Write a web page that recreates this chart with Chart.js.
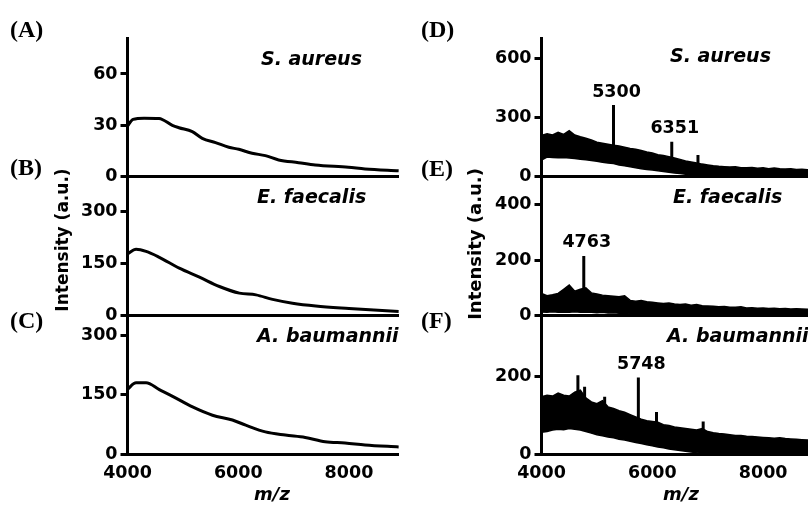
<!DOCTYPE html>
<html>
<head>
<meta charset="utf-8">
<script src="https://cdn.jsdelivr.net/npm/chart.js@4.4.0/dist/chart.umd.min.js"></script>
<style>
  html, body { margin: 0; padding: 0; background: #fff; overflow: hidden; }
  #fig { position: relative; width: 808px; height: 505px; overflow: hidden; }
  #fig canvas { position: absolute; left: 0; top: 0; }
</style>
</head>
<body>
<div id="fig"></div>
<script>
// shared m/z axis
const mzTicks = [4000, 6000, 8000];

// (A)-(C): smoothed spectra
const mzA = [4000, 4100, 4300, 4570, 4810, 4930, 5170, 5350, 5590, 5830, 6010, 6250, 6490, 6730, 7090, 7390, 7990, 8290, 8900];
const intA = [29.6, 33.5, 34.2, 34, 30, 28.6, 26.3, 22.4, 19.9, 17.2, 16, 13.7, 12.3, 9.8, 8.2, 6.8, 5.5, 4.5, 3.5];
const mzB = [4000, 4155, 4335, 4575, 4935, 5300, 5660, 6020, 6320, 6620, 6980, 7400, 8000, 8900];
const intB = [178, 191, 185, 168, 137, 111, 84, 65, 60, 47, 36, 28, 21, 12];
const mzC = [4000, 4155, 4335, 4575, 4815, 5175, 5535, 5895, 6135, 6490, 6850, 7210, 7570, 7930, 8290, 8900];
const intC = [164, 180, 180, 163, 146, 119, 98, 86, 73, 56, 48, 42, 31, 28, 23, 18];

// (D)-(F): raw spectra drawn as a band between lower and upper envelope
const mzRaw = [4000, 4100, 4200, 4300, 4400, 4500, 4600, 4700, 4800, 4900,
               5000, 5100, 5200, 5300, 5400, 5500, 5600, 5700, 5800, 5900,
               6000, 6100, 6200, 6300, 6400, 6500, 6600, 6700, 6800, 6900,
               7000, 7100, 7200, 7300, 7400, 7500, 7600, 7700, 7800, 7900,
               8000, 8100, 8200, 8300, 8400, 8500, 8600, 8700, 8800, 8900];
const upperD = [210, 218, 212, 226, 215, 234, 212, 203, 195, 187, 175, 170, 165, 160, 156, 150, 144, 140, 133, 126,
                120, 112, 108, 102, 95, 88, 80, 75, 70, 64, 60, 56, 53, 51, 49, 50, 46, 45, 47, 43,
                45, 41, 44, 40, 39, 41, 37, 38, 35, 36];
const lowerD = [85, 100, 98, 96, 97, 95, 92, 89, 86, 82, 78, 74, 70, 67, 60, 55, 50, 45, 41, 37,
                34, 30, 27, 23, 19, 16, 12, 6, 2, 0, 0, 0, 0, 0, 0, 0, 0, 0, 0, 0,
                0, 0, 0, 0, 0, 0, 0, 0, 0, 0];
const upperE = [80, 72, 75, 80, 95, 110, 88, 95, 100, 82, 78, 74, 72, 70, 68, 72, 55, 52, 55, 50,
                48, 46, 44, 46, 42, 40, 42, 38, 40, 36, 35, 34, 32, 33, 30, 30, 32, 28, 29, 27,
                28, 26, 27, 25, 26, 24, 25, 24, 23, 23];
const lowerE = [13, 12, 14, 12, 13, 12, 14, 12, 13, 12, 11, 12, 10, 11, 9, 8, 6, 3, 0, 0,
                0, 0, 0, 0, 0, 0, 0, 0, 0, 0, 0, 0, 0, 0, 0, 0, 0, 0, 0, 0,
                0, 0, 0, 0, 0, 0, 0, 0, 0, 0];
const upperF = [148, 152, 150, 158, 152, 150, 160, 165, 145, 135, 130, 138, 122, 118, 112, 108, 102, 96, 90, 86,
                84, 82, 76, 74, 70, 68, 66, 64, 62, 66, 58, 55, 53, 52, 50, 48, 48, 46, 45, 44,
                43, 42, 41, 42, 40, 39, 38, 37, 36, 36];
const lowerF = [56, 58, 62, 64, 63, 66, 64, 62, 58, 54, 50, 47, 44, 42, 38, 36, 33, 30, 27, 24,
                21, 18, 16, 13, 11, 9, 7, 5, 3, 2, 1, 0, 0, 0, 0, 0, 0, 0, 0, 0,
                0, 0, 0, 0, 0, 0, 0, 0, 0, 0];

// peaks standing out of the band
const peakMzD = [5300, 6351, 6824];
const peakTopD = [364, 178, 110];
const peakBaseD = [140, 85, 65];
const peakLabelD = ['5300', '6351', ''];
const peakMzE = [4763];
const peakTopE = [215];
const peakBaseE = [70];
const peakLabelE = ['4763'];
const peakMzF = [4657, 4778, 5140, 5748, 6076, 6918];
const peakTopF = [204, 174, 148, 198, 109, 84];
const peakBaseF = [130, 130, 115, 90, 75, 60];
const peakLabelF = ['', '', '', '5748', '', ''];

// y ticks per panel
const yTicksA = [0, 30, 60];
const yTicksB = [0, 150, 300];
const yTicksC = [0, 150, 300];
const yTicksD = [0, 300, 600];
const yTicksE = [0, 200, 400];
const yTicksF = [0, 200];

// layout
const W = 830, H = 505, X_AXIS_H = 40;
const colLeft = { left: 127.5, right: 398.8 };
const colRight = { left: 541.5, right: 813 };
const rows = [{ top: 38, bottom: 176.7 }, { top: 176.7, bottom: 315.7 }, { top: 315.7, bottom: 454 }];

const tickFont = { family: 'DejaVu Sans', weight: 'bold', size: 17.5 };
const panelFont = 'bold 24px "Liberation Serif"';
const speciesFont = 'italic bold 19px "DejaVu Sans"';

const fig = document.getElementById('fig');

function toPoints(xs, ys) {
    return xs.map((x, i) => ({ x: x, y: ys[i] }));
}

function spikePoints(mz, base, top) {
    const pts = [];
    mz.forEach((m, i) => {
        pts.push({ x: m, y: base[i] }, { x: m, y: top[i] }, { x: m, y: null });
    });
    return pts;
}

function textPlugin(items, peaks) {
    return {
        id: 'figText',
        afterDraw(chart) {
            const ctx = chart.ctx;
            ctx.save();
            ctx.fillStyle = '#000';
            ctx.textBaseline = 'middle';
            items.forEach(t => {
                ctx.save();
                ctx.font = t.font;
                ctx.textAlign = t.align || 'left';
                ctx.translate(t.x, t.y);
                if (t.rotate) ctx.rotate(t.rotate);
                ctx.fillText(t.text, 0, 0);
                ctx.restore();
            });
            if (peaks) {
                const xs = chart.scales.x, ys = chart.scales.y;
                ctx.font = 'bold 17.5px "DejaVu Sans"';
                ctx.textAlign = 'center';
                peaks.mz.forEach((m, i) => {
                    if (!peaks.label[i]) return;
                    ctx.fillText(peaks.label[i], xs.getPixelForValue(m) + 3, ys.getPixelForValue(peaks.top[i]) - 13);
                });
            }
            ctx.restore();
        }
    };
}

function makePanel(col, row, datasets, yMax, yTicks, showX, items, peaks) {
    const canvas = document.createElement('canvas');
    canvas.width = W;
    canvas.height = H;
    fig.appendChild(canvas);
    const box = rows[row];
    return new Chart(canvas, {
        type: 'line',
        data: { datasets: datasets },
        options: {
            responsive: false,
            animation: false,
            events: [],
            layout: { padding: { left: 0, top: box.top, right: W - col.right, bottom: H - box.bottom - X_AXIS_H } },
            plugins: { legend: { display: false }, tooltip: { enabled: false } },
            elements: { point: { radius: 0 } },
            scales: {
                x: {
                    type: 'linear', min: 4000, max: 8900,
                    afterFit: s => { s.height = X_AXIS_H; },
                    afterBuildTicks: s => { s.ticks = mzTicks.map(v => ({ value: v })); },
                    grid: { display: false, drawTicks: false },
                    border: { display: true, width: 3, color: '#000' },
                    ticks: { display: showX, font: tickFont, color: '#000', padding: 9, maxRotation: 0, callback: v => String(v) }
                },
                y: {
                    type: 'linear', min: 0, max: yMax,
                    afterFit: s => { s.width = col.left; },
                    afterBuildTicks: s => { s.ticks = yTicks.map(v => ({ value: v })); },
                    grid: { drawOnChartArea: false, drawTicks: true, tickLength: 7, tickWidth: 3, tickColor: '#000' },
                    border: { display: true, width: 3, color: '#000' },
                    ticks: { font: tickFont, color: '#000', padding: 3, callback: v => String(v) }
                }
            }
        },
        plugins: [textPlugin(items, peaks)]
    });
}

function smoothSet(xs, ys) {
    return { data: toPoints(xs, ys), borderColor: '#000', borderWidth: 3, cubicInterpolationMode: 'monotone', fill: false };
}

function rawSets(lower, upper, pMz, pBase, pTop) {
    return [
        { data: toPoints(mzRaw, lower), borderColor: '#000', borderWidth: 1.5, fill: false },
        { data: toPoints(mzRaw, upper), borderColor: '#000', borderWidth: 1.5, fill: '-1', backgroundColor: '#000' },
        { data: spikePoints(pMz, pBase, pTop), borderColor: '#000', borderWidth: 3, fill: false, spanGaps: false }
    ];
}

const yTitleL = { text: 'Intensity (a.u.)', x: 64, y: 240, font: 'bold 17px "DejaVu Sans"', align: 'center', rotate: -Math.PI / 2 };
const yTitleR = { text: 'Intensity (a.u.)', x: 476, y: 244, font: 'bold 18px "DejaVu Sans"', align: 'center', rotate: -Math.PI / 2 };

// left column
makePanel(colLeft, 0, [smoothSet(mzA, intA)], 81, yTicksA, false, [
    { text: '(A)', x: 10, y: 31, font: panelFont },
    { text: 'S. aureus', x: 261, y: 60, font: speciesFont }
]);
makePanel(colLeft, 1, [smoothSet(mzB, intB)], 400, yTicksB, false, [
    { text: '(B)', x: 10, y: 169, font: panelFont },
    { text: 'E. faecalis', x: 257, y: 198, font: speciesFont },
    yTitleL
]);
makePanel(colLeft, 2, [smoothSet(mzC, intC)], 350, yTicksC, true, [
    { text: '(C)', x: 10, y: 322, font: panelFont },
    { text: 'A. baumannii', x: 257, y: 337, font: speciesFont },
    { text: 'm/z', x: 272, y: 495, font: 'italic bold 18px "DejaVu Sans"', align: 'center' }
]);

// right column
makePanel(colRight, 0, rawSets(lowerD, upperD, peakMzD, peakBaseD, peakTopD), 705, yTicksD, false, [
    { text: '(D)', x: 421, y: 31, font: panelFont },
    { text: 'S. aureus', x: 670, y: 57, font: speciesFont }
], { mz: peakMzD, top: peakTopD, label: peakLabelD });
makePanel(colRight, 1, rawSets(lowerE, upperE, peakMzE, peakBaseE, peakTopE), 500, yTicksE, false, [
    { text: '(E)', x: 421, y: 170, font: panelFont },
    { text: 'E. faecalis', x: 673, y: 198, font: speciesFont },
    yTitleR
], { mz: peakMzE, top: peakTopE, label: peakLabelE });
makePanel(colRight, 2, rawSets(lowerF, upperF, peakMzF, peakBaseF, peakTopF), 358, yTicksF, true, [
    { text: '(F)', x: 421, y: 322, font: panelFont },
    { text: 'A. baumannii', x: 667, y: 337, font: speciesFont },
    { text: 'm/z', x: 681, y: 495, font: 'italic bold 18px "DejaVu Sans"', align: 'center' }
], { mz: peakMzF, top: peakTopF, label: peakLabelF });
</script>
</body>
</html>
